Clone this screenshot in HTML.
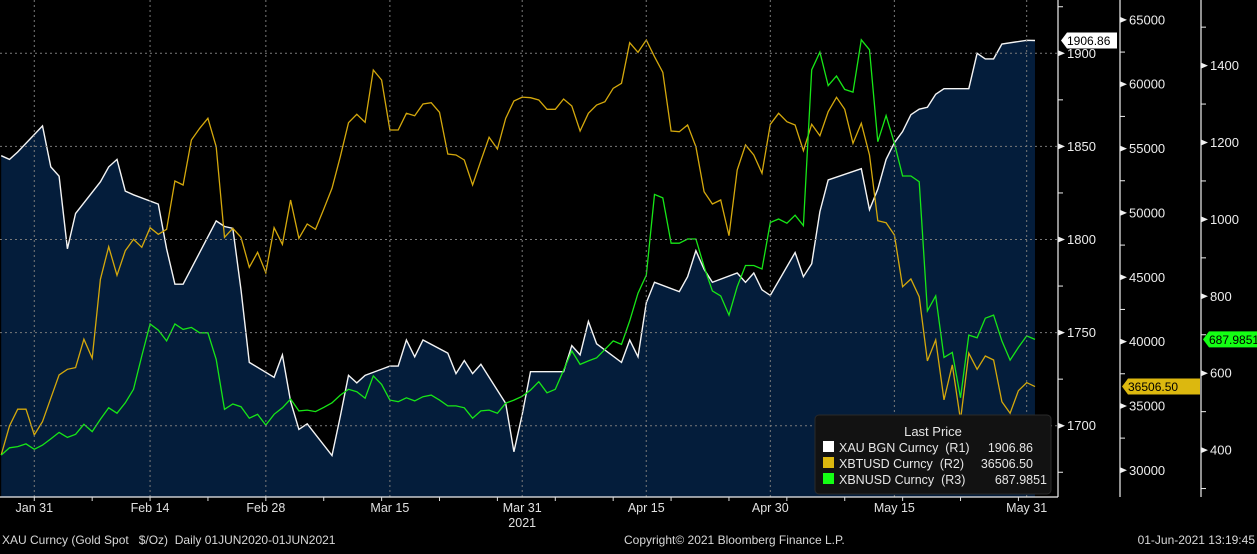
<!DOCTYPE html>
<html><head><meta charset="utf-8"><style>
html,body{margin:0;padding:0;background:#000;}
body{width:1257px;height:549px;overflow:hidden;font-family:"Liberation Sans",sans-serif;}
svg text{font-family:"Liberation Sans",sans-serif;white-space:pre;}
</style></head><body>
<svg id="chart" width="1257" height="549" viewBox="0 0 1257 549" xmlns="http://www.w3.org/2000/svg">
<rect x="0" y="0" width="1257" height="549" fill="#000"/>
<g id="grid"></g>
<g id="series"></g>
<g id="axes"></g>
<g id="legend">
  <rect x="815" y="415" width="236" height="79" rx="4" fill="#121212" stroke="#2a2a2a"/>
  <text x="933" y="436" fill="#e6e6e6" font-size="13" text-anchor="middle">Last Price</text>
  <g>
    <rect x="823" y="441" width="11" height="11" fill="#ffffff"/>
    <text x="839" y="452" fill="#e6e6e6" font-size="12.5">XAU BGN Curncy  (R1)</text>
    <text x="1033" y="452" fill="#e6e6e6" font-size="12.5" text-anchor="end">1906.86</text>
  </g>
  <g>
    <rect x="823" y="457" width="11" height="11" fill="#dcb80f"/>
    <text x="839" y="468" fill="#e6e6e6" font-size="12.5">XBTUSD Curncy  (R2)</text>
    <text x="1033" y="468" fill="#e6e6e6" font-size="12.5" text-anchor="end">36506.50</text>
  </g>
  <g>
    <rect x="823" y="473" width="11" height="11" fill="#14ff14"/>
    <text x="839" y="484" fill="#e6e6e6" font-size="12.5">XBNUSD Curncy  (R3)</text>
    <text x="1047" y="484" fill="#e6e6e6" font-size="12.5" text-anchor="end">687.9851</text>
  </g>
</g>
<g>
  <text x="2" y="544" fill="#d8d8d8" font-size="12">XAU Curncy (Gold Spot   $/Oz)  Daily 01JUN2020-01JUN2021</text>
  <text x="624" y="544" fill="#d8d8d8" font-size="12">Copyright© 2021 Bloomberg Finance L.P.</text>
  <text x="1255" y="544" fill="#d8d8d8" font-size="12" text-anchor="end">01-Jun-2021 13:19:45</text>
</g>
</svg>
<script>
// ---- data ----
const goldDays = [0,1,2,5,6,7,8,9,12,13,14,15,16,19,20,21,22,26,27,28,29,30,33,34,35,36,37,40,41,42,43,44,47,48,49,50,51,54,55,56,57,58,61,62,63,64,68,69,70,71,72,75,76,77,78,79,82,83,84,85,86,89,90,91,92,93,96,97,98,99,100,104,105,106,107,108,109,110,111,112,113,114,117,118,119,120,121,124,125];
const goldVals = [1845,1843,1847,1861,1839,1834,1795,1814,1831,1839,1843,1826,1824,1819,1795,1776,1776,1810,1807,1806,1773,1734,1726,1738,1713,1698,1701,1684,1705,1727,1723,1727,1732,1732,1746,1737,1746,1739,1728,1735,1728,1733,1712,1686,1706,1729,1729,1743,1738,1756,1744,1734,1746,1737,1766,1777,1772,1780,1794,1784,1777,1782,1777,1782,1773,1770,1793,1780,1787,1815,1832,1838,1816,1827,1843,1852,1858,1867,1870,1871,1878,1881,1881,1900,1897,1897,1905,1907,1906.86];
const xbtVals = [31193,33446,34743,34743,32747,33780,35598,37409,37850,37976,40183,38707,44845,47378,45156,47067,47953,47331,48854,48341,48730,52483,52172,55668,56577,57354,55148,48108,48807,48108,45777,46943,45358,48854,47564,51006,48030,49141,48730,50284,51915,54371,57013,57665,57044,61107,60330,56445,56445,57743,57556,58465,58566,57820,54580,54503,54114,52172,54060,55878,54969,57354,58698,59000,58955,58776,58054,58054,58854,58310,56368,57743,58388,58644,59685,60074,63228,62482,63438,62140,60928,56368,56314,56834,55148,51651,50696,51006,48233,53337,55280,54503,53081,56889,57743,57091,56834,54838,56889,56004,57867,58986,58054,55412,56966,54503,49398,49242,48287,44270,44868,43493,38497,40129,35467,38186,33912,39095,37850,38884,38573,35333,34432,36188,36810,36506.5];
const xbnVals = [387,406,409,416,402,413,429,446,433,441,467,448,480,510,496,523,558,645,728,712,684,728,714,719,705,705,636,506,520,513,483,493,465,493,510,533,502,504,500,511,523,543,558,552,535,593,571,530,526,536,528,539,543,530,515,515,510,483,502,504,496,522,530,540,556,578,549,558,608,658,623,632,640,662,684,675,736,808,855,1065,1056,938,938,949,949,877,814,801,751,825,880,880,871,992,1001,990,1011,984,1389,1435,1348,1373,1338,1331,1467,1441,1202,1270,1198,1113,1113,1098,762,801,641,654,536,699,692,743,751,684,634,667,697,687.9851];
const xLabels = ["Jan 31","Feb 14","Feb 28","Mar 15","Mar 31","Apr 15","Apr 30","May 15","May 31"];
const xLabelDays = [4,18,32,47,63,78,93,108,124];
const r1Ticks = [1900,1850,1800,1750,1700];
const r2Ticks = [65000,60000,55000,50000,45000,40000,35000,30000];
const r3Ticks = [1400,1200,1000,800,600,400];

// ---- scales ----
const PLOT_R = 1057, PLOT_B = 497;
const xS = d => 1.2 + 8.27 * d;
const y1 = v => 53.3 + (1900 - v) * 1.862;
const y2 = v => 19.9 + (65000 - v) / 5000 * 64.34;
const y3 = v => 65.6 + (1400 - v) / 200 * 76.9;
const NS = "http://www.w3.org/2000/svg";
function mk(tag, attrs, parent) {
  const e = document.createElementNS(NS, tag);
  for (const k in attrs) e.setAttribute(k, attrs[k]);
  parent.appendChild(e);
  return e;
}
const grid = document.getElementById('grid');
const ser = document.getElementById('series');
const axes = document.getElementById('axes');

// gold area
let pts = goldDays.map((d, i) => xS(d).toFixed(1) + ',' + y1(goldVals[i]).toFixed(1));
const area = mk('polygon', {points: xS(goldDays[0]) + ',' + PLOT_B + ' ' + pts.join(' ') + ' ' + xS(goldDays[goldDays.length - 1]) + ',' + PLOT_B, fill: '#041d3b'}, ser);



// gridlines
r1Ticks.forEach(v => {
  const l = mk('line', {x1: 0, x2: PLOT_R, y1: y1(v), y2: y1(v), stroke: '#7a7a7a', 'stroke-width': 1, 'stroke-dasharray': '2,3'}, grid);
  
  
});
xLabelDays.forEach(d => {
  const l = mk('line', {x1: xS(d), x2: xS(d), y1: 0, y2: PLOT_B, stroke: '#7a7a7a', 'stroke-width': 1, 'stroke-dasharray': '2,3'}, grid);
  
  
});
ser.parentNode.insertBefore(ser, grid);

// lines
const gl = mk('polyline', {points: pts.join(' '), fill: 'none', stroke: '#f4f4f4', 'stroke-width': 1.4}, ser);


const xb = mk('polyline', {points: xbtVals.map((v, i) => xS(i).toFixed(1) + ',' + y2(v).toFixed(1)).join(' '), fill: 'none', stroke: '#d4a80c', 'stroke-width': 1.3}, ser);


const xn = mk('polyline', {points: xbnVals.map((v, i) => xS(i).toFixed(1) + ',' + y3(v).toFixed(1)).join(' '), fill: 'none', stroke: '#17e617', 'stroke-width': 1.3}, ser);



// axis lines
[[0, PLOT_B, PLOT_R + 1, PLOT_B], [1058, 0, 1058, PLOT_B], [1120, 0, 1120, PLOT_B], [1201, 0, 1201, PLOT_B]].forEach(a => {
  const l = mk('line', {x1: a[0], y1: a[1], x2: a[2], y2: a[3], stroke: '#f0f0f0', 'stroke-width': 1.2}, axes);
  
  
});
// x ticks and labels
for (let d = 4; d <= 125; d += 7) {
  const t = mk('line', {x1: xS(d), x2: xS(d), y1: PLOT_B, y2: PLOT_B + 4, stroke: '#ddd'}, axes);
  
  
}
xLabels.forEach((s, i) => {
  const t = mk('text', {x: xS(xLabelDays[i]), y: 512, fill: '#e0e0e0', 'font-size': 12.5, 'text-anchor': 'middle'}, axes);
  t.textContent = s;
  
  
});
const yr = mk('text', {x: xS(63), y: 527, fill: '#e0e0e0', 'font-size': 12.5, 'text-anchor': 'middle'}, axes);
yr.textContent = '2021';



function yAxis(ticks, sc, ax, minorStep, lo, hi, name) {
  for (let v = lo; v <= hi; v += minorStep) {
    const y = sc(v);
    if (y < 2 || y > PLOT_B) continue;
    const m = mk('line', {x1: ax, x2: ax + 5, y1: y, y2: y, stroke: '#eee'}, axes);
    
    
  }
  ticks.forEach(v => {
    const y = sc(v);
    const p = mk('polygon', {points: `${ax},${y - 3} ${ax + 7},${y} ${ax},${y + 3}`, fill: '#f0f0f0'}, axes);
    
    
    const t = mk('text', {x: ax + 9, y: y + 4.5, fill: '#ececec', 'font-size': 13}, axes);
    t.textContent = String(v);
    
    
  });
}
yAxis(r1Ticks, y1, 1058, 25, 1650, 1950, 'r1-axis');
yAxis(r2Ticks, y2, 1120, 2500, 27500, 67500, 'r2-axis');
yAxis(r3Ticks, y3, 1201, 100, 300, 1500, 'r3-axis');

// last-value tags
function tag(x, y, w, bg, txt, name) {
  const g = mk('g', {}, axes);
  
  
  mk('polygon', {points: `${x},${y} ${x + 6},${y - 8} ${x + w},${y - 8} ${x + w},${y + 8} ${x + 6},${y + 8}`, fill: bg}, g);
  const t = mk('text', {x: x + 6, y: y + 4.5, fill: '#000', 'font-size': 12}, g);
  t.textContent = txt;
}
tag(1061, y1(goldVals[goldVals.length - 1]), 56, '#ffffff', '1906.86', 'xau-last-tag');
tag(1122, y2(xbtVals[xbtVals.length - 1]), 78, '#dcb80f', '36506.50', 'xbt-last-tag');
tag(1203, y3(xbnVals[xbnVals.length - 1]), 54, '#14ff14', '687.9851', 'xbn-last-tag');
</script>
</body></html>
